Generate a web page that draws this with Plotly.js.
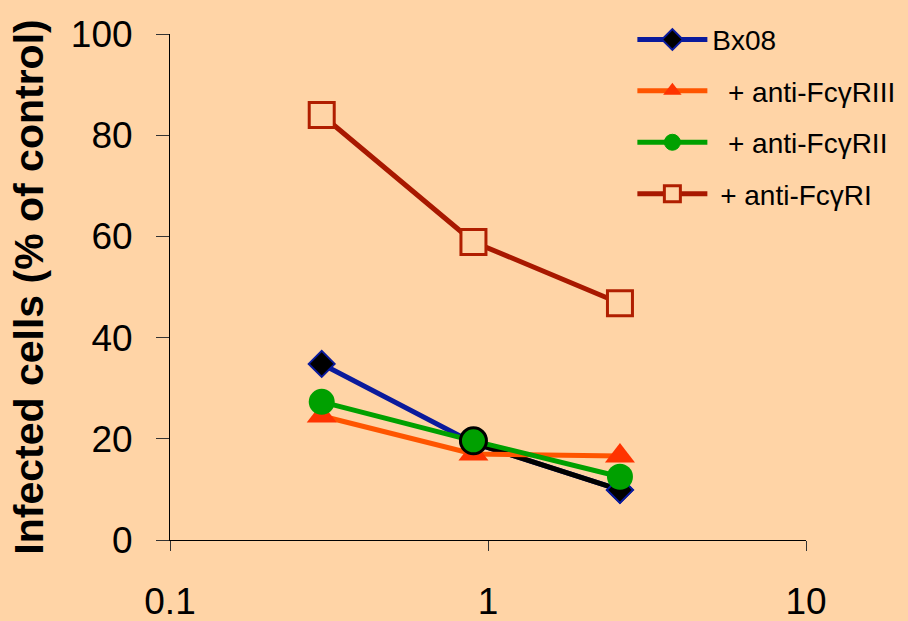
<!DOCTYPE html>
<html>
<head>
<meta charset="utf-8">
<script src="https://cdn.plot.ly/plotly-3.0.1.min.js"></script>
<style>html,body{margin:0;padding:0;background:#FFD4A6;}#chart{width:908px;height:621px;}</style>
</head>
<body>
<div id="chart"></div>
<script>
// Data
var dilution = [0.3, 0.9, 2.6];
var seriesNames = ["Bx08", "\u00a0\u00a0+ anti-Fc\u03b3RIII", "\u00a0\u00a0+ anti-Fc\u03b3RII", "\u00a0+ anti-Fc\u03b3RI"];
var bx08 = [34.8, 19.2, 9.9];
var antiRIII = [24.5, 17.0, 16.6];
var antiRII = [27.3, 19.6, 12.5];
var antiRI = [84.0, 58.9, 46.8];
var xTickVals = [0.1, 1, 10];
var xTickText = ["0.1", "1", "10"];
var yTickVals = [0, 20, 40, 60, 80, 100];

var bg = "#FFD4A6";
var fontFam = "Arial, 'Liberation Sans', sans-serif";

var traces = [
  {
    x: dilution, y: antiRI, name: seriesNames[3], mode: "lines+markers",
    legendrank: 4, legendgroup: "g4",
    line: {color: "#A81800", width: 5},
    marker: {symbol: "square", size: 25, color: bg, line: {color: "#B01E00", width: 3}}
  },
  {
    x: dilution, y: bx08, name: seriesNames[0], mode: "lines+markers",
    legendrank: 1, legendgroup: "g1",
    line: {color: "#0A1A9C", width: 5},
    marker: {symbol: "diamond", size: 20, color: "#000000", line: {color: "#0A1A9C", width: 2}}
  },
  {
    x: dilution.slice(1), y: bx08.slice(1), mode: "lines", showlegend: false,
    legendgroup: "g1", hoverinfo: "skip",
    line: {color: "#000000", width: 5}
  },
  {
    x: dilution.slice(2), y: bx08.slice(2), mode: "markers", showlegend: false,
    legendgroup: "g1", hoverinfo: "skip",
    marker: {symbol: "diamond", size: 20, color: "#000000", line: {color: "#0A1A9C", width: 2}}
  },
  {
    x: dilution, y: antiRIII, name: seriesNames[1], mode: "lines+markers",
    legendrank: 2, legendgroup: "g2",
    line: {color: "#FF5500", width: 5},
    marker: {symbol: "triangle-up", size: 26, color: "#FF3300", line: {width: 0}}
  },
  {
    x: dilution, y: antiRII, name: seriesNames[2], mode: "lines+markers",
    legendrank: 3, legendgroup: "g3",
    line: {color: "#00A000", width: 5},
    marker: {symbol: "circle", size: 26, color: "#00A000",
             line: {color: ["#00A000", "#000000", "#00A000"], width: [0, 3, 0]}}
  }
];

var layout = {
  width: 908, height: 621,
  paper_bgcolor: bg, plot_bgcolor: bg,
  margin: {l: 170, r: 102, t: 34, b: 81, autoexpand: false},
  font: {family: fontFam, color: "#000000"},
  showlegend: true,
  legend: {
    x: 0.727, y: 1.038, xanchor: "left", yanchor: "top",
    bgcolor: "rgba(0,0,0,0)", font: {size: 28, family: fontFam, color: "#000"},
    tracegroupgap: 12, itemsizing: "trace", itemwidth: 70
  },
  xaxis: {
    type: "log", range: [-1, 1],
    tickvals: xTickVals, ticktext: xTickText,
    ticks: "outside", ticklen: 10, tickwidth: 1, tickcolor: "#333",
    showline: true, linecolor: "#000", linewidth: 1,
    showgrid: false, zeroline: false,
    tickfont: {size: 37, family: fontFam, color: "#000"},
    ticklabelstandoff: 19
  },
  yaxis: {
    range: [0, 100], tickvals: yTickVals,
    ticks: "outside", ticklen: 13, tickwidth: 1, tickcolor: "#333",
    showline: true, linecolor: "#000", linewidth: 1,
    showgrid: false, zeroline: false,
    tickfont: {size: 37, family: fontFam, color: "#000"},
    ticklabelstandoff: 16,
    title: {text: "Infected cells (% of control)", font: {size: 41, family: fontFam, color: "#000", weight: "bold"}, standoff: 14}
  }
};

Plotly.newPlot("chart", traces, layout, {displayModeBar: false, staticPlot: true});
</script>
</body>
</html>
